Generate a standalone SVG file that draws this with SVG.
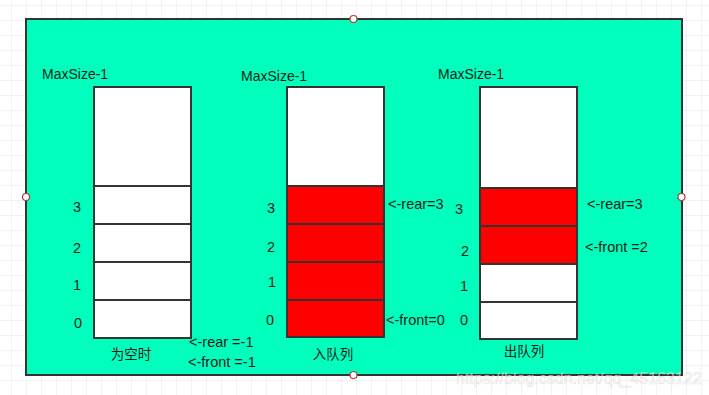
<svg xmlns="http://www.w3.org/2000/svg" width="709" height="395" viewBox="0 0 709 395">
<defs>
<pattern id="grid" x="11" y="5" width="15" height="15" patternUnits="userSpaceOnUse">
<path d="M0 0 H15 M0 0 V15" fill="none" stroke="#e6e6e6" stroke-width="1"/>
</pattern>
<style>
.t{font-family:"Liberation Sans","Noto Sans CJK SC",sans-serif;font-size:14px;fill:#1a1a1a}
.p{font-family:"Liberation Sans","Noto Sans CJK SC",sans-serif;font-size:14.5px;fill:#1a1a1a}
.c{font-family:"Liberation Sans","Noto Sans CJK SC",sans-serif;font-size:13.5px;fill:#1a1a1a;text-anchor:middle}
.w{fill:#ffffff;stroke:#333333;stroke-width:2}
.r{fill:#ff0000;stroke:#333333;stroke-width:2}
.h{fill:#ffffff;stroke:#b03a3a;stroke-width:1.2}
</style>
</defs>
<rect width="709" height="395" fill="#ffffff"/>
<rect width="709" height="395" fill="url(#grid)"/>
<g id="frame">
<rect x="26" y="19" width="656" height="356" fill="#00ffbd" stroke="#333333" stroke-width="2"/>
</g>
<g id="empty">
<text class="t" x="42" y="79">MaxSize-1</text>
<rect class="w" x="94" y="87" width="97" height="99"/>
<rect class="w" x="94" y="186" width="97" height="38"/>
<rect class="w" x="94" y="224" width="97" height="38"/>
<rect class="w" x="94" y="262" width="97" height="38"/>
<rect class="w" x="94" y="300" width="97" height="38"/>
<text class="p" x="73" y="212">3</text>
<text class="p" x="73" y="253">2</text>
<text class="p" x="73" y="290">1</text>
<text class="p" x="74" y="328">0</text>
<text class="c" x="131" y="359">为空时</text>
<text class="p" x="189" y="347">&lt;-rear =-1</text>
<text class="p" x="188" y="367">&lt;-front =-1</text>
</g>
<g id="enqueue">
<text class="t" x="241" y="81">MaxSize-1</text>
<rect class="w" x="287" y="87" width="97" height="99"/>
<rect class="r" x="287" y="186" width="97" height="38"/>
<rect class="r" x="287" y="224" width="97" height="38"/>
<rect class="r" x="287" y="262" width="97" height="38"/>
<rect class="r" x="287" y="300" width="97" height="37"/>
<text class="p" x="267" y="213">3</text>
<text class="p" x="267" y="252">2</text>
<text class="p" x="268" y="287">1</text>
<text class="p" x="266" y="325">0</text>
<text class="p" x="388" y="209">&lt;-rear=3</text>
<text class="p" x="386" y="325">&lt;-front=0</text>
<text class="c" x="333" y="359">入队列</text>
</g>
<g id="dequeue">
<text class="t" x="438" y="79">MaxSize-1</text>
<rect class="w" x="480" y="87" width="97" height="101"/>
<rect class="r" x="480" y="188" width="97" height="38"/>
<rect class="r" x="480" y="226" width="97" height="38"/>
<rect class="w" x="480" y="264" width="97" height="38"/>
<rect class="w" x="480" y="302" width="97" height="37"/>
<text class="p" x="455" y="214">3</text>
<text class="p" x="461" y="256">2</text>
<text class="p" x="460" y="291">1</text>
<text class="p" x="460" y="325">0</text>
<text class="p" x="587" y="209">&lt;-rear=3</text>
<text class="p" x="585" y="252">&lt;-front =2</text>
<text class="c" x="524" y="356">出队列</text>
</g>
<g id="handles">
<circle class="h" cx="353.5" cy="19" r="3.5"/>
<circle class="h" cx="26" cy="197" r="3.5"/>
<circle class="h" cx="681.5" cy="197" r="3.5"/>
<circle class="h" cx="353.5" cy="375" r="3.5"/>
</g>
<text x="456" y="384" font-family="Liberation Sans, sans-serif" font-size="16" fill="#ffffff" fill-opacity="0.6" stroke="#9a9a9a" stroke-opacity="0.3" stroke-width="0.6">https://blog.csdn.net/qq_45163122</text>
</svg>
